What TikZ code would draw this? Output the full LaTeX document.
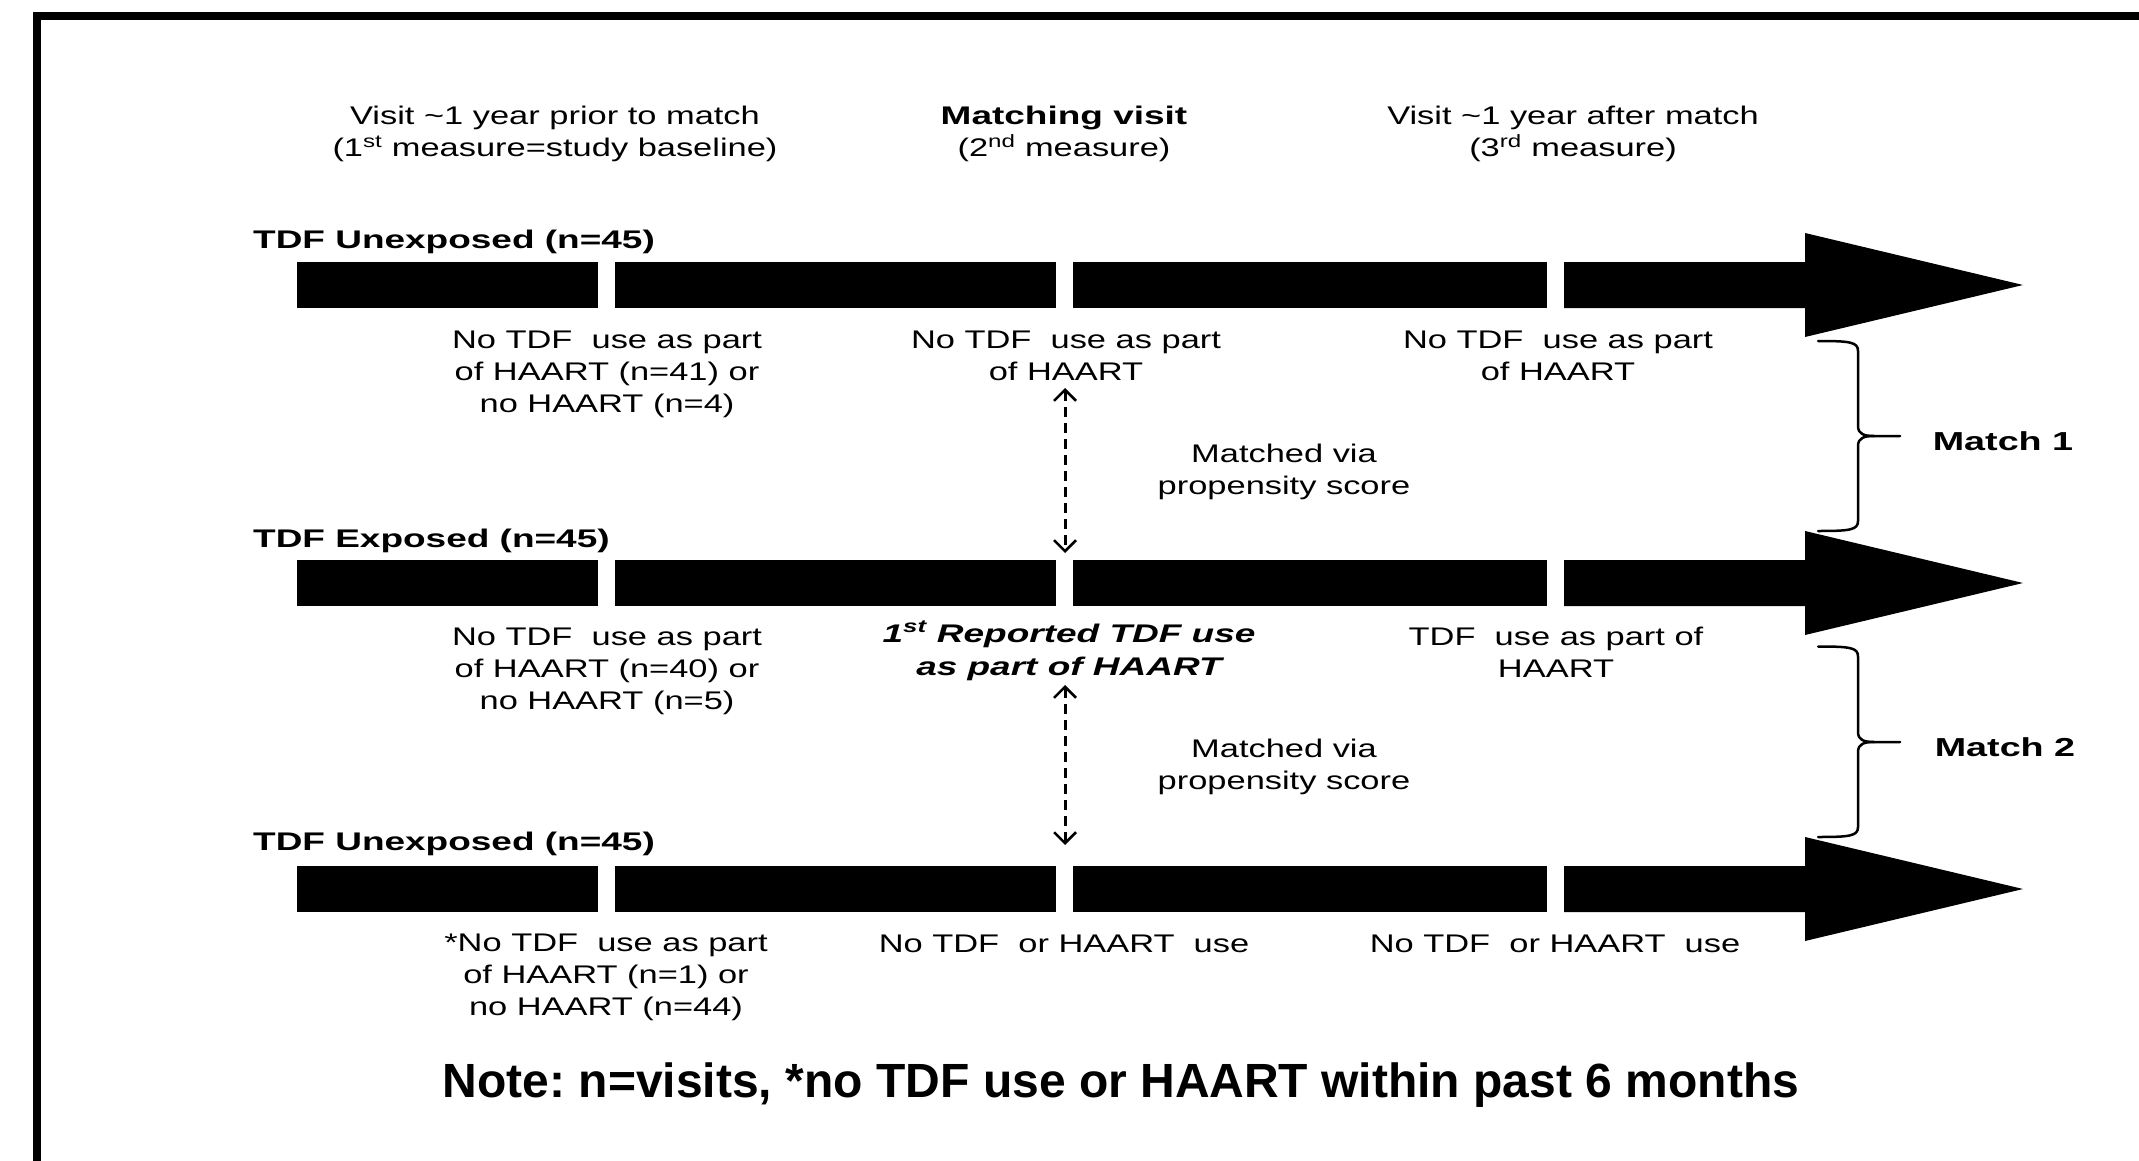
\documentclass[tikz,border=0pt]{standalone}
\usepackage{fontspec}
\setmainfont{Liberation Sans}
\newfontfamily\wreg{Liberation Sans}[FakeStretch=1.35]
\newfontfamily\wbold{Liberation Sans}[FakeStretch=1.45]
\usetikzlibrary{arrows.meta}
\frenchspacing
\tikzset{
  lbl/.style={font=\wreg\fontsize{25.5}{32}\selectfont, align=center, anchor=base, inner sep=0pt},
  rowlbl/.style={font=\wbold\bfseries\fontsize{25.5}{32}\selectfont, anchor=base west, inner sep=0pt},
  matchlbl/.style={font=\wbold\bfseries\fontsize{26}{32}\selectfont, anchor=base, inner sep=0pt},
  bilbl/.style={font=\wbold\bfseries\itshape\fontsize{25.5}{33}\selectfont, align=center, anchor=base, inner sep=0pt},
  notelbl/.style={font=\bfseries\fontsize{48}{58}\selectfont, anchor=base, inner sep=0pt},
  dashar/.style={line width=3pt, dash pattern=on 10pt off 6pt,
    {Straight Barb[length=11pt,width=22pt,line width=2.5pt]}-{Straight Barb[length=11pt,width=22pt,line width=2.5pt]}},
  bracestyle/.style={line width=2.5pt, line cap=round}
}
\newcommand\tline[1]{%
  \fill (297,{#1-23}) rectangle (598,{#1+23});
  \fill (615,{#1-23}) rectangle (1056,{#1+23});
  \fill (1073,{#1-23}) rectangle (1547,{#1+23});
  \fill (1564,{#1-23}) -- (1805,{#1-23}) -- (1805,{#1-52}) -- (2023,#1)
        -- (1805,{#1+52}) -- (1805,{#1+23}) -- (1564,{#1+23}) -- cycle;
}
\newcommand\mbrace[3]{%
  \draw[bracestyle] (1818,#1) .. controls (1850,#1) and (1858,{#1+1}) .. (1858,{#1+10})
     -- (1858,{#2-10}) .. controls (1858,{#2-2}) and (1864,#2) .. (1874,#2) -- (1900,#2);
  \draw[bracestyle] (1874,#2) .. controls (1864,#2) and (1858,{#2+2}) .. (1858,{#2+10})
     -- (1858,{#3-10}) .. controls (1858,{#3-1}) and (1850,#3) .. (1818,#3);
}
\begin{document}
\begin{tikzpicture}[x=1pt,y=-1pt]
\useasboundingbox (0,0) rectangle (2139,1161);
\fill[white] (0,0) rectangle (2139,1161);
% frame
\draw[line width=7.5pt] (37,1175) -- (37,16) -- (2150,16);

% headers (anchor base = last line)
\node[lbl] (h1) at (555,157) {Visit \textasciitilde1 year prior to match\\(1\textsuperscript{st} measure=study baseline)};
\node[lbl] (h2) at (1064,157) {{\wbold\bfseries Matching visit}\\(2\textsuperscript{nd} measure)};
\node[lbl] (h3) at (1573,157) {Visit \textasciitilde1 year after match\\(3\textsuperscript{rd} measure)};

% timelines
\tline{285}
\tline{583}
\tline{889}

% row labels
\node[rowlbl] (r1) at (253,248) {TDF Unexposed (n=45)};
\node[rowlbl] (r2) at (253,547) {TDF Exposed (n=45)};
\node[rowlbl] (r3) at (253,850) {TDF Unexposed (n=45)};

% row 1 texts
\node[lbl] (c11) at (607,412) {No TDF\ \ use as part\\of HAART (n=41) or\\no HAART (n=4)};
\node[lbl] (c12) at (1066,380) {No TDF\ \ use as part\\of HAART};
\node[lbl] (c13) at (1558,380) {No TDF\ \ use as part\\of HAART};

% row 2 texts
\node[lbl] (c21) at (607,709) {No TDF\ \ use as part\\of HAART (n=40) or\\no HAART (n=5)};
\node[bilbl] (c22) at (1069,675) {1\textsuperscript{st} Reported TDF use\\as part of HAART};
\node[lbl] (c23) at (1556,677) {TDF\ \ use as part of\\HAART};

% row 3 texts
\node[lbl] (c31) at (606,1015) {*No TDF\ \ use as part\\of HAART (n=1) or\\no HAART (n=44)};
\node[lbl] (c32) at (1064,952) {No TDF\ \ or HAART\ \ use};
\node[lbl] (c33) at (1555,952) {No TDF\ \ or HAART\ \ use};

% matched via
\node[lbl] (m1) at (1284,494) {Matched via\\propensity score};
\node[lbl] (m2) at (1284,789) {Matched via\\propensity score};

% dashed double arrows
\coordinate (d1a) at (1065,388);
\coordinate (d1b) at (1065,553);
\coordinate (d2a) at (1065,685);
\coordinate (d2b) at (1065,845);
\draw[dashar] (d1a) -- (d1b);
\draw[dashar] (d2a) -- (d2b);

% braces
\mbrace{341}{436}{531}
\mbrace{646.5}{742}{837}
\node[matchlbl] (mt1) at (2003,450) {Match 1};
\node[matchlbl] (mt2) at (2005,756) {Match 2};

% note
\node[notelbl] (note) at (1121,1097) {Note: n=visits, *no TDF use or HAART within past 6 months};
\end{tikzpicture}
\end{document}
